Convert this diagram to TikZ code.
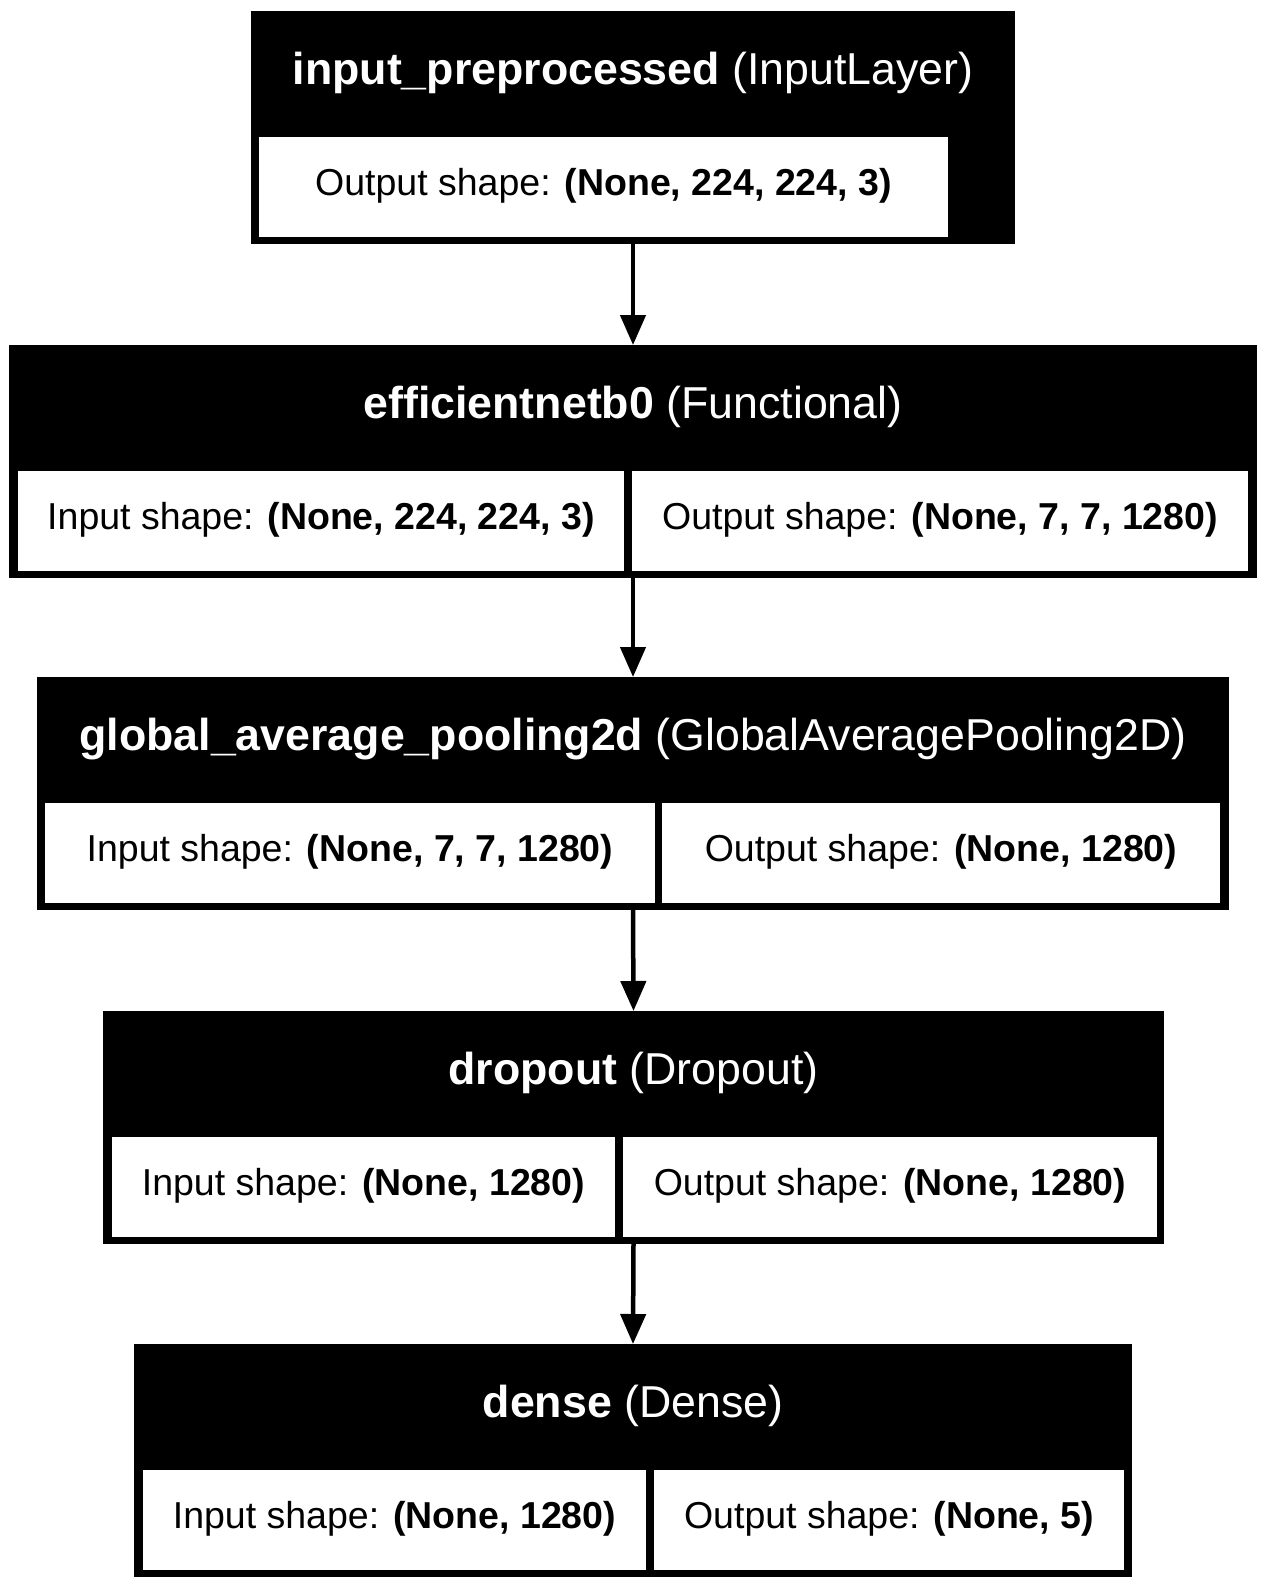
\documentclass[tikz,border=0pt]{standalone}
\usepackage{fontspec}
\setmainfont{Liberation Sans}
\usetikzlibrary{arrows.meta}
\tikzset{
  layerbox/.style={rectangle, fill=black, draw=none, inner sep=0pt, outer sep=0pt, anchor=north west, minimum height=233pt},
  headtext/.style={rectangle, inner sep=0pt, outer sep=0pt, anchor=north west, minimum height=126pt, text height=38pt, text depth=17pt, text=white, font=\fontsize{44.7}{50}\selectfont},
  cellbox/.style={rectangle, fill=white, draw=none, inner sep=0pt, outer sep=0pt, anchor=north west, minimum height=100pt, text height=31pt, text depth=14pt, text=black, font=\fontsize{37.5}{42}\selectfont},
  flow/.style={line width=4.5pt, -{Triangle[length=30pt,width=25pt]}}
}
\begin{document}
\begin{tikzpicture}[x=1pt,y=-1pt]
\useasboundingbox (0,0) rectangle (1267,1589);
% layer 1
\node[layerbox, minimum width=764pt] (b1) at (251,11) {};
\node[headtext, minimum width=764pt] (b1h) at (251,11) {\textbf{input\_preprocessed} (InputLayer)};
\node[cellbox, minimum width=689pt] (b1o) at (259,137) {Output shape: \textbf{(None, 224, 224, 3)}};
% layer 2
\node[layerbox, minimum width=1248pt] (b2) at (9,345) {};
\node[headtext, minimum width=1248pt] (b2h) at (9,345) {\textbf{efficientnetb0} (Functional)};
\node[cellbox, minimum width=606pt] (b2i) at (18,471) {Input shape: \textbf{(None, 224, 224, 3)}};
\node[cellbox, minimum width=616pt] (b2o) at (632,471) {Output shape: \textbf{(None, 7, 7, 1280)}};
% layer 3
\node[layerbox, minimum width=1192pt] (b3) at (37,677) {};
\node[headtext, minimum width=1192pt] (b3h) at (37,677) {\textbf{global\_average\_pooling2d} (GlobalAveragePooling2D)};
\node[cellbox, minimum width=610pt] (b3i) at (45,803) {Input shape: \textbf{(None, 7, 7, 1280)}};
\node[cellbox, minimum width=558pt] (b3o) at (662,803) {Output shape: \textbf{(None, 1280)}};
% layer 4
\node[layerbox, minimum width=1061pt] (b4) at (103,1011) {};
\node[headtext, minimum width=1061pt] (b4h) at (103,1011) {\textbf{dropout} (Dropout)};
\node[cellbox, minimum width=503pt] (b4i) at (112,1137) {Input shape: \textbf{(None, 1280)}};
\node[cellbox, minimum width=534pt] (b4o) at (623,1137) {Output shape: \textbf{(None, 1280)}};
% layer 5
\node[layerbox, minimum width=998pt] (b5) at (134,1344) {};
\node[headtext, minimum width=998pt] (b5h) at (134,1344) {\textbf{dense} (Dense)};
\node[cellbox, minimum width=503pt] (b5i) at (143,1470) {Input shape: \textbf{(None, 1280)}};
\node[cellbox, minimum width=470pt] (b5o) at (654,1470) {Output shape: \textbf{(None, 5)}};
% connectors
\draw[flow] (b1.south) -- (b2.north);
\draw[flow] (b2.south) -- (b3.north);
\draw[flow] (b3.south) -- (b4.north);
\draw[flow] (b4.south) -- (b5.north);
\end{tikzpicture}
\end{document}
